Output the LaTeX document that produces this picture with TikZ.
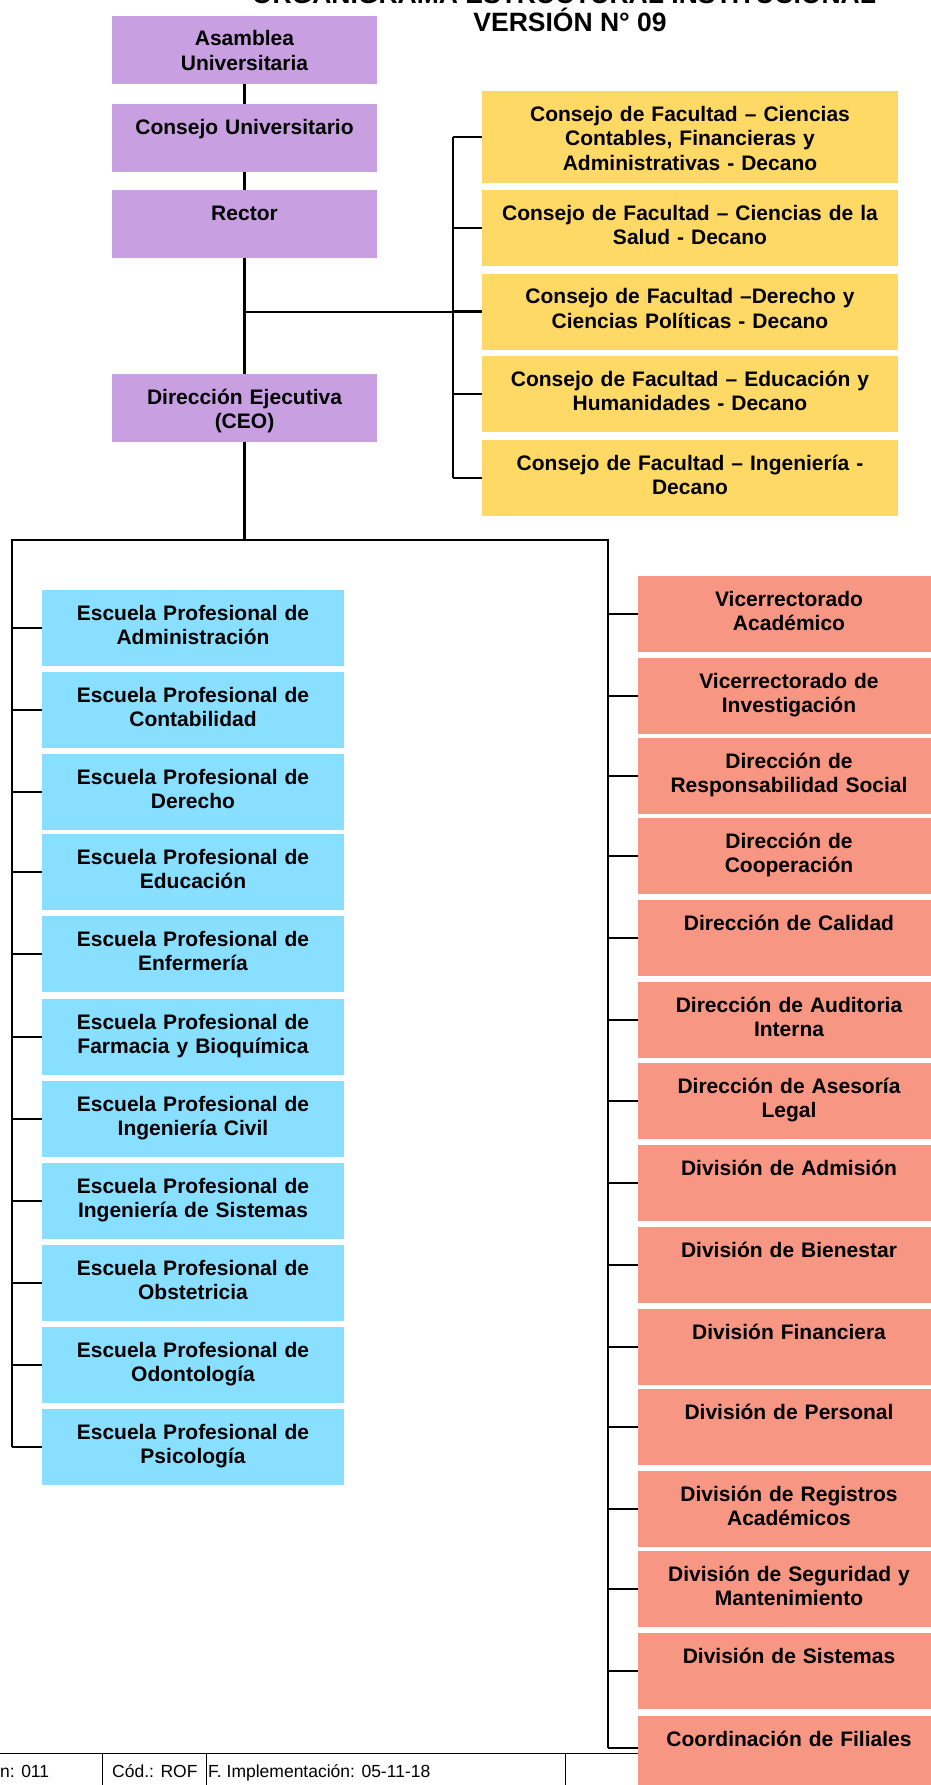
\documentclass[tikz,border=0pt]{standalone}
\usepackage{fontspec}
\setmainfont{Liberation Sans}
\usepackage{xcolor}
\usetikzlibrary{positioning}

\definecolor{lila}{RGB}{200,160,226}
\definecolor{amarillo}{RGB}{255,217,102}
\definecolor{celeste}{RGB}{137,223,255}
\definecolor{rosado}{RGB}{247,150,131}

\tikzstyle{caja} = [draw=none,inner xsep=0pt,inner ysep=6pt,align=center,text height=24pt,text depth=40pt,font=\bfseries\fontsize{21}{24.5}\selectfont]
\tikzstyle{lila caja} = [caja,fill=lila,text width=265pt,text depth=32pt]
\tikzstyle{fac caja} = [caja,fill=amarillo,text width=416pt]
\tikzstyle{esc caja} = [caja,fill=celeste,text width=302pt]
\tikzstyle{ofi caja} = [caja,fill=rosado,text width=302pt]
\tikzstyle{linea} = [line width=2.4pt,line join=miter]
\tikzstyle{pie} = [anchor=base west,inner sep=0pt,font=\fontsize{17.5}{20}\selectfont]

\begin{document}
\begin{tikzpicture}[x=1pt,y=-1pt]
\useasboundingbox (0,0) rectangle (931,1785);
% titulo
\node[anchor=base,inner sep=0pt,font=\bfseries\fontsize{26.5}{28}\selectfont] (tit1) at (564,4) {ORGANIGRAMA ESTRUCTURAL INSTITUCIONAL};
\node[anchor=base,inner sep=0pt,font=\bfseries\fontsize{26.5}{28}\selectfont] (tit2) at (570,32) {VERSIÓN N° 09};
% pie de pagina
\draw[line width=1pt] (0,1753) -- (931,1753);
\draw[line width=1pt] (102,1753) -- (102,1790);
\draw[line width=1pt] (206,1753) -- (206,1790);
\draw[line width=1pt] (565,1753) -- (565,1790);
\node[pie] (ver) at (0,1777) {n: 011};
\node[pie] (cod) at (112,1777) {Cód.: ROF};
\node[pie] (imp) at (208,1777) {F. Implementación: 05-11-18};
% alta direccion
\node[lila caja] (asam) at (244.5,50) {Asamblea\\Universitaria};
\node[lila caja] (cuni) at (244.5,138) {Consejo Universitario};
\node[lila caja] (rect) at (244.5,224) {Rector};
\node[lila caja] (dire) at (244.5,408) {Dirección Ejecutiva\\(CEO)};
% facultades
\node[fac caja,text depth=56pt] (fac1) at (690,137) {Consejo de Facultad – Ciencias\\Contables, Financieras y\\Administrativas - Decano};
\node[fac caja] (fac2) at (690,228) {Consejo de Facultad – Ciencias de la\\Salud - Decano};
\node[fac caja] (fac3) at (690,311.5) {Consejo de Facultad –Derecho y\\Ciencias Políticas - Decano};
\node[fac caja] (fac4) at (690,394) {Consejo de Facultad – Educación y\\Humanidades - Decano};
\node[fac caja] (fac5) at (690,478) {Consejo de Facultad – Ingeniería -\\Decano};
% escuelas
\node[esc caja] (esc1) at (193,628) {Escuela Profesional de\\Administración};
\node[esc caja] (esc2) at (193,710) {Escuela Profesional de\\Contabilidad};
\node[esc caja] (esc3) at (193,792) {Escuela Profesional de\\Derecho};
\node[esc caja] (esc4) at (193,872) {Escuela Profesional de\\Educación};
\node[esc caja] (esc5) at (193,954) {Escuela Profesional de\\Enfermería};
\node[esc caja] (esc6) at (193,1037) {Escuela Profesional de\\Farmacia y Bioquímica};
\node[esc caja] (esc7) at (193,1119) {Escuela Profesional de\\Ingeniería Civil};
\node[esc caja] (esc8) at (193,1201) {Escuela Profesional de\\Ingeniería de Sistemas};
\node[esc caja] (esc9) at (193,1283) {Escuela Profesional de\\Obstetricia};
\node[esc caja] (esc10) at (193,1365) {Escuela Profesional de\\Odontología};
\node[esc caja] (esc11) at (193,1447) {Escuela Profesional de\\Psicología};
% oficinas
\node[ofi caja] (ofi1) at (789,614) {Vicerrectorado\\Académico};
\node[ofi caja] (ofi2) at (789,696) {Vicerrectorado de\\Investigación};
\node[ofi caja] (ofi3) at (789,776) {Dirección de\\Responsabilidad Social};
\node[ofi caja] (ofi4) at (789,856) {Dirección de\\Cooperación};
\node[ofi caja] (ofi5) at (789,938) {Dirección de Calidad};
\node[ofi caja] (ofi6) at (789,1020) {Dirección de Auditoria\\Interna};
\node[ofi caja] (ofi7) at (789,1101) {Dirección de Asesoría\\Legal};
\node[ofi caja] (ofi8) at (789,1183) {División de Admisión};
\node[ofi caja] (ofi9) at (789,1265) {División de Bienestar};
\node[ofi caja] (ofi10) at (789,1347) {División Financiera};
\node[ofi caja] (ofi11) at (789,1427) {División de Personal};
\node[ofi caja] (ofi12) at (789,1509) {División de Registros\\Académicos};
\node[ofi caja] (ofi13) at (789,1589) {División de Seguridad y\\Mantenimiento};
\node[ofi caja] (ofi14) at (789,1671) {División de Sistemas};
\node[ofi caja] (ofi15) at (789,1754) {Coordinación de Filiales};
% lineas de mando
\draw[linea] (asam) -- (cuni);
\draw[linea] (cuni) -- (rect);
\draw[linea] (rect) -- (dire);
\coordinate (brf) at (453,312);
\coordinate (izq) at (12,540);
\coordinate (der) at (608,540);
\coordinate (fin) at (608,1748);
\draw[linea] (rect |- brf) -- (brf);
\draw[linea] (brf |- fac1) -- (brf |- fac5);
\draw[linea] (brf |- fac1) -- (fac1);
\draw[linea] (brf |- fac2) -- (fac2);
\draw[linea] (brf |- fac3) -- (fac3);
\draw[linea] (brf |- fac4) -- (fac4);
\draw[linea] (brf |- fac5) -- (fac5);
\draw[linea] (dire) -- (dire |- izq);
\draw[linea] (izq |- esc11) -- (izq) -- (der) -- (fin);
\draw[linea] (izq |- esc1) -- (esc1);
\draw[linea] (izq |- esc2) -- (esc2);
\draw[linea] (izq |- esc3) -- (esc3);
\draw[linea] (izq |- esc4) -- (esc4);
\draw[linea] (izq |- esc5) -- (esc5);
\draw[linea] (izq |- esc6) -- (esc6);
\draw[linea] (izq |- esc7) -- (esc7);
\draw[linea] (izq |- esc8) -- (esc8);
\draw[linea] (izq |- esc9) -- (esc9);
\draw[linea] (izq |- esc10) -- (esc10);
\draw[linea] (izq |- esc11) -- (esc11);
\draw[linea] (der |- ofi1) -- (ofi1);
\draw[linea] (der |- ofi2) -- (ofi2);
\draw[linea] (der |- ofi3) -- (ofi3);
\draw[linea] (der |- ofi4) -- (ofi4);
\draw[linea] (der |- ofi5) -- (ofi5);
\draw[linea] (der |- ofi6) -- (ofi6);
\draw[linea] (der |- ofi7) -- (ofi7);
\draw[linea] (der |- ofi8) -- (ofi8);
\draw[linea] (der |- ofi9) -- (ofi9);
\draw[linea] (der |- ofi10) -- (ofi10);
\draw[linea] (der |- ofi11) -- (ofi11);
\draw[linea] (der |- ofi12) -- (ofi12);
\draw[linea] (der |- ofi13) -- (ofi13);
\draw[linea] (der |- ofi14) -- (ofi14);
\draw[linea] (fin) -- (ofi15.west |- fin);
\end{tikzpicture}
\end{document}
